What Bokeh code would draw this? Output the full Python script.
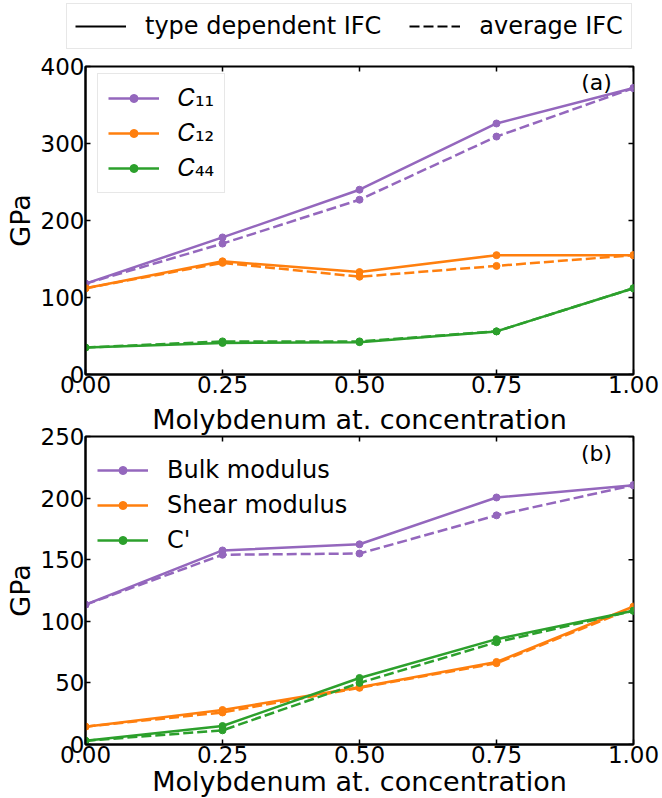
import math
from bokeh.plotting import figure
from bokeh.models import Legend, LegendItem, FixedTicker, Label, Range1d, NumeralTickFormatter
from bokeh.layouts import column, row
from bokeh.embed import file_html
from bokeh.resources import INLINE

# ---- data ----
mo_conc = [0.0, 0.25, 0.5, 0.75, 1.0]
x_ticks = [0.0, 0.25, 0.5, 0.75, 1.0]
y_ticks_a = [0, 100, 200, 300, 400]
y_ticks_b = [0, 50, 100, 150, 200, 250]

c11_type = [118, 178, 240, 326, 372]
c11_avg = [118, 170, 227, 309, 372]
c12_type = [112, 147, 133, 155, 155]
c12_avg = [112, 145, 127, 141, 155]
c44_type = [35, 41, 42, 56, 112]
c44_avg = [35, 43, 43, 56, 112]

bulk_type = [113.5, 157.5, 162.5, 200.5, 210.5]
bulk_avg = [113.5, 154, 155, 186, 210.5]
shear_type = [14.5, 28, 46.5, 67, 112]
shear_avg = [14.5, 26, 46, 66, 111]
cprime_type = [3, 15, 54, 85.5, 108.5]
cprime_avg = [3, 11.5, 50, 83, 108.5]

labels_a = ["\U0001D436\u2081\u2081", "\U0001D436\u2081\u2082", "\U0001D436\u2084\u2084"]
labels_b = ["Bulk modulus", "Shear modulus", "C'"]
style_labels = ["type dependent IFC", "average IFC"]
x_label = "Molybdenum at. concentration"
y_label = "GPa"
colors = ["#9467bd", "#ff7f0e", "#2ca02c"]

FONT = "DejaVu Sans"
TICK_FS = "23px"
LABEL_FS = "27px"
LEG_FS = "24px"
DASH = "10 4"
FRAME_W = 548
FRAME_H = 308
TICK_LEN = 5


def style_axis(ax):
    ax.major_tick_in = TICK_LEN
    ax.major_tick_out = 0
    ax.minor_tick_in = 0
    ax.minor_tick_out = 0
    ax.major_tick_line_width = 1.5
    ax.major_tick_line_color = "black"
    ax.axis_line_width = 2
    ax.axis_line_color = "black"
    ax.major_label_text_font = FONT
    ax.major_label_text_color = "black"
    ax.major_label_text_font_size = TICK_FS
    ax.major_label_standoff = 1
    ax.axis_label_text_font = FONT
    ax.axis_label_text_font_size = LABEL_FS
    ax.axis_label_text_font_style = "normal"
    ax.axis_label_text_color = "black"


def make_fig(ymax, yticks, border_top, border_bottom, series, labels, tag, tag_y, legend_box, leg_y):
    p = figure(frame_width=FRAME_W, frame_height=FRAME_H, output_backend="svg", toolbar_location=None,
               x_range=Range1d(0, 1), y_range=Range1d(0, ymax),
               min_border_left=85, min_border_right=29,
               min_border_top=border_top, min_border_bottom=border_bottom)
    p.grid.visible = False
    p.outline_line_color = "black"
    p.outline_line_width = 2
    p.background_fill_color = "white"
    p.border_fill_color = "white"

    p.xaxis.ticker = FixedTicker(ticks=x_ticks)
    p.xaxis.formatter = NumeralTickFormatter(format="0.00")
    p.yaxis.ticker = FixedTicker(ticks=yticks)
    for ax in p.xaxis + p.yaxis:
        style_axis(ax)
    p.yaxis.axis_label = y_label
    p.xaxis.axis_label_standoff = 0
    p.yaxis.axis_label_standoff = 2

    # inward ticks on the top and right edges (matplotlib style mirrored ticks)
    dy = TICK_LEN / FRAME_H * ymax
    dx = TICK_LEN / FRAME_W
    p.segment(x0=x_ticks, y0=[ymax] * len(x_ticks), x1=x_ticks, y1=[ymax - dy] * len(x_ticks),
              line_color="black", line_width=1.5)
    p.segment(x0=[1] * len(yticks), y0=yticks, x1=[1 - dx] * len(yticks), y1=yticks,
              line_color="black", line_width=1.5)

    items = []
    for (yt, ya), col, lab in zip(series, colors, labels):
        l1 = p.line(mo_conc, yt, line_width=2.5, color=col)
        s1 = p.scatter(mo_conc, yt, size=7, color=col)
        p.line(mo_conc, ya, line_width=2.5, color=col, line_dash=DASH)
        p.scatter(mo_conc, ya, size=7, color=col)
        items.append(LegendItem(label=lab, renderers=[l1, s1]))

    leg = Legend(items=items, location=(12, leg_y), glyph_width=51, glyph_height=20,
                 label_standoff=19, padding=10, spacing=7, margin=0,
                 label_text_font=FONT, label_text_font_size=LEG_FS, label_text_color="black",
                 border_line_color="#d0d0d0" if legend_box else None, border_line_width=1,
                 background_fill_alpha=1.0 if legend_box else 0.0)
    p.add_layout(leg)

    p.add_layout(Label(x=0.9325, y=tag_y, text=tag, text_align="center", text_baseline="middle",
                       text_font=FONT, text_font_size="22px", text_color="black"))
    return p


# strip that holds the line-style legend
p0 = figure(width=662, height=50, x_range=Range1d(0, 1), y_range=Range1d(0, 1),
            x_axis_location=None, y_axis_location=None, toolbar_location=None,
            output_backend="svg", min_border_left=0, min_border_right=0,
            min_border_top=0, min_border_bottom=0)
p0.grid.visible = False
p0.outline_line_color = None
p0.border_fill_color = "white"
nan2 = [math.nan, math.nan]
r_solid = p0.line(nan2, nan2, color="black", line_width=2)
r_dash = p0.line(nan2, nan2, color="black", line_width=2, line_dash=DASH)
top_leg = Legend(items=[LegendItem(label=style_labels[0], renderers=[r_solid]),
                        LegendItem(label=style_labels[1], renderers=[r_dash])],
                 orientation="horizontal", location=(66, 1), glyph_width=51, glyph_height=20,
                 label_standoff=19, padding=8, spacing=28, margin=0,
                 label_text_font=FONT, label_text_font_size=LEG_FS, label_text_color="black",
                 border_line_color="#d0d0d0", border_line_width=1)
p0.add_layout(top_leg)

p1 = make_fig(400, y_ticks_a, 16, 28,
              [(c11_type, c11_avg), (c12_type, c12_avg), (c44_type, c44_avg)],
              labels_a, "(a)", 379, True, 181)

p2 = make_fig(250, y_ticks_b, 34, 54,
              [(bulk_type, bulk_avg), (shear_type, shear_avg), (cprime_type, cprime_avg)],
              labels_b, "(b)", 236, False, 190)
p2.xaxis.axis_label = x_label
# x label of panel (a) sits between the panels
p2.title.text = x_label
p2.title.align = "center"
p2.title.vertical_align = "top"
p2.title.text_font = FONT
p2.title.text_font_size = LABEL_FS
p2.title.text_font_style = "normal"
p2.title.text_color = "black"
p2.title.standoff = 0
p2.title.offset = 0

layout = column(row(p0), p1, p2, spacing=0)
open("out.html", "w").write(file_html(layout, INLINE))
